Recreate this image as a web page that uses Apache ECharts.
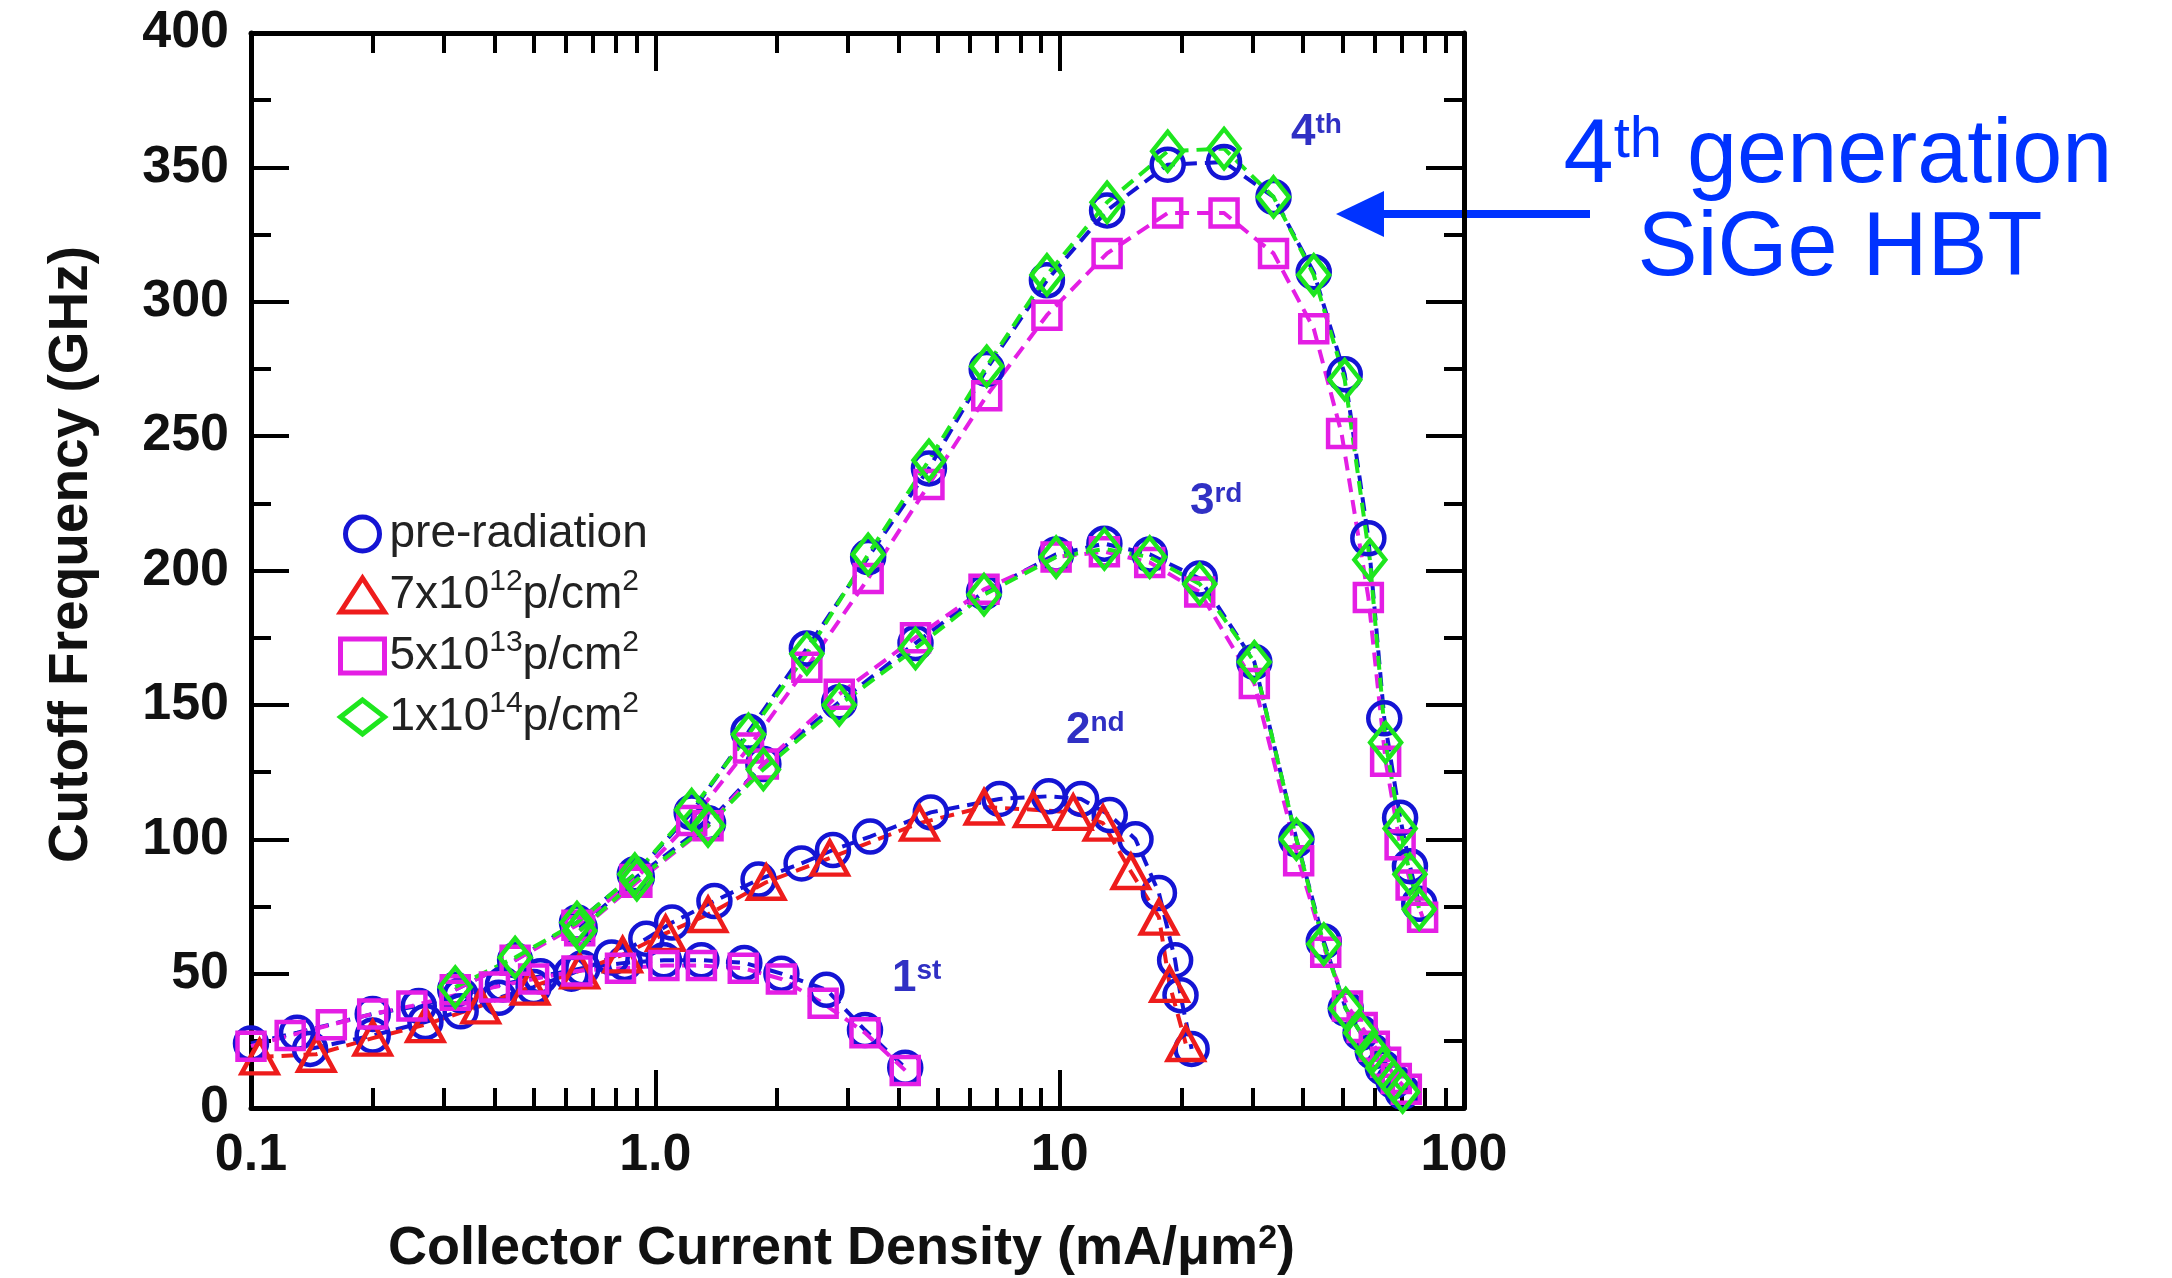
<!DOCTYPE html>
<html>
<head>
<meta charset="utf-8">
<script src="https://cdn.jsdelivr.net/npm/echarts@6.0.0/dist/echarts.min.js"></script>
<style>
  html, body { margin: 0; padding: 0; background: #fff; }
  #chart { width: 2172px; height: 1278px; }
</style>
</head>
<body>
<div id="chart"></div>
<script>
  // tick values
  var xMajorTicks = [0.1, 1, 10, 100];
  var xMinorTicks = [0.2, 0.3, 0.4, 0.5, 0.6, 0.7, 0.8, 0.9, 2, 3, 4, 5, 6, 7, 8, 9, 20, 30, 40, 50, 60, 70, 80, 90];

  // [J (mA/um2), fT (GHz)]
  // 1st generation
  var gen1Pre = [[0.1,24],[0.13,28],[0.2,35],[0.26,38],[0.33,42],[0.42,46],[0.52,49],[0.66,52],[0.84,54],[1.05,55],[1.3,55],[1.66,54],[2.05,50],[2.65,44],[3.3,29],[4.15,15]];
  var gen1D13 = [[0.1,23],[0.125,27],[0.158,31],[0.2,35],[0.25,38],[0.32,42],[0.4,45],[0.5,48],[0.64,51],[0.82,52],[1.05,53],[1.3,53],[1.65,52],[2.05,48],[2.6,39],[3.3,28],[4.15,14]];
  // 2nd generation
  var gen2Pre = [[0.14,22],[0.2,27],[0.27,32],[0.33,36],[0.41,41],[0.5,45],[0.62,50],[0.78,56],[0.95,63],[1.1,69],[1.4,77],[1.8,85],[2.3,91],[2.75,96],[3.4,101],[4.8,110],[7.1,115],[9.4,116],[11.3,115],[13.3,109],[15.4,100],[17.6,80],[19.3,55],[19.9,42],[21.2,22]];
  var gen2D12 = [[0.105,19],[0.145,20],[0.2,26],[0.27,31],[0.37,38],[0.49,45],[0.65,51],[0.83,57],[1.06,65],[1.35,72],[1.88,84],[2.7,93],[4.5,106],[6.5,112],[8.6,111],[10.8,110],[12.8,106],[15,88],[17.6,71],[18.7,46],[20.5,24]];
  // 3rd generation
  var gen3Pre = [[0.65,67],[0.9,86],[1.35,106],[1.85,128],[2.85,151],[4.4,173],[6.5,192],[9.8,206],[12.9,210],[16.7,206],[22.2,197],[30.3,166],[38.5,100],[45,62],[51,37],[55.5,28],[59.5,21],[63,15],[67,10],[70.5,6]];
  var gen3D13 = [[0.65,66],[0.9,84],[1.35,105],[1.85,128],[2.85,154],[4.4,175],[6.5,193],[9.8,205],[12.9,207],[16.7,203],[22.2,192],[30.3,158],[39,92],[45.5,58],[51.5,38],[56,30],[60,23],[64,17],[68,11],[72,7]];
  var gen3D14 = [[0.65,66],[0.9,85],[1.35,105],[1.85,126],[2.85,150],[4.4,171],[6.5,191],[9.8,205],[12.9,208],[16.7,205],[22.2,195],[30.3,166],[38.5,100],[45,61],[51,37],[55.5,28],[59.5,21],[63,15],[67,10],[70.5,6]];
  // 4th generation
  var gen4Pre = [[0.32,44],[0.45,55],[0.64,69],[0.89,87],[1.23,110],[1.7,140],[2.37,171],[3.36,205],[4.75,238],[6.6,275],[9.3,308],[13.1,334],[18.5,351],[25.5,352],[33.8,339],[42.5,311],[50.7,273],[58,212],[63.5,145],[69.5,108],[73.5,90],[77.5,76]];
  var gen4D13 = [[0.32,44],[0.45,55],[0.64,68],[0.89,85],[1.23,107],[1.7,134],[2.37,164],[3.36,197],[4.75,232],[6.6,265],[9.3,295],[13.1,318],[18.5,333],[25.5,333],[33.8,318],[42.5,290],[49.8,251],[58,190],[64,129],[69.5,98],[74,83],[79,71]];
  var gen4D14 = [[0.32,45],[0.45,56],[0.64,69],[0.89,87],[1.23,111],[1.7,139],[2.37,169],[3.36,206],[4.75,241],[6.6,276],[9.3,310],[13.1,337],[18.5,356],[25.5,357],[33.8,339],[42.5,310],[50.7,271],[58.5,204],[64,136],[69.5,104],[73.5,87],[77.5,74]];

  var F = "'Liberation Sans', Arial, sans-serif";

  var kinds = {
    pre: { name: 'pre-radiation', symbol: 'circle', color: '#1414d4', size: 32 },
    d12: { name: '7x10^12', symbol: 'triangle', color: '#ee1c1c', size: [36, 33] },
    d13: { name: '5x10^13', symbol: 'rect', color: '#e41ee4', size: 27 },
    d14: { name: '1x10^14', symbol: 'diamond', color: '#1ee61e', size: [31, 39] }
  };
  var legendText = {
    'pre-radiation': '{m|pre-radiation}',
    '7x10^12': '{m|7x10}{s|12}{m|p/cm}{s|2}',
    '5x10^13': '{m|5x10}{s|13}{m|p/cm}{s|2}',
    '1x10^14': '{m|1x10}{s|14}{m|p/cm}{s|2}'
  };

  function curve(kind, data) {
    var k = kinds[kind];
    return {
      name: k.name,
      type: 'line',
      data: data,
      symbol: k.symbol,
      symbolSize: k.size,
      animation: false,
      emphasis: { disabled: true },
      itemStyle: { color: 'rgba(255,255,255,0)', borderColor: k.color, borderWidth: 4.5 },
      lineStyle: { color: k.color, width: 4, type: [14, 8] }
    };
  }

  function legendItem(kind, icon) {
    var k = kinds[kind];
    return { name: k.name, icon: icon, itemStyle: { color: 'rgba(0,0,0,0)', borderColor: k.color, borderWidth: 5 } };
  }

  function genLabel(num, suf, x, y) {
    return {
      type: 'text', x: x, y: y,
      style: {
        text: '{n|' + num + '}{s|' + suf + '}', align: 'left', verticalAlign: 'middle',
        rich: {
          n: { fontFamily: F, fontSize: 44, fontWeight: 'bold', fill: '#3030c4' },
          s: { fontFamily: F, fontSize: 28, fontWeight: 'bold', fill: '#3030c4', verticalAlign: 'top' }
        }
      }
    };
  }

  var chart = echarts.init(document.getElementById('chart'));

  var tickLine = { color: '#000', width: 4 };
  var frameLine = { color: '#000', width: 5 };

  var option = {
    backgroundColor: '#fff',
    animation: false,
    grid: { left: 251, right: 708, top: 33, bottom: 170, outerBoundsMode: 'none' },
    legend: {
      orient: 'vertical',
      left: 333,
      top: 503,
      itemWidth: 44,
      itemHeight: 34,
      itemGap: 7,
      selectedMode: false,
      data: [
        legendItem('pre', 'circle'),
        legendItem('d12', 'triangle'),
        legendItem('d13', 'rect'),
        legendItem('d14', 'diamond')
      ],
      formatter: function (n) { return legendText[n]; },
      textStyle: {
        fontFamily: F, fontSize: 46, color: '#222',
        rich: {
          m: { fontFamily: F, fontSize: 46, color: '#222', lineHeight: 56, padding: [3, 0, 3, 0] },
          s: { fontFamily: F, fontSize: 30, color: '#222', verticalAlign: 'top' }
        }
      }
    },
    xAxis: [
      {
        type: 'log', logBase: 10, min: 0.1, max: 100, position: 'bottom',
        axisLine: { onZero: false, lineStyle: frameLine },
        axisTick: { inside: true, length: 38, lineStyle: tickLine, customValues: xMajorTicks },
        axisLabel: {
          customValues: xMajorTicks, margin: 22, color: '#111', fontFamily: F, fontSize: 52, fontWeight: 'bold',
          formatter: function (v) { return v === 1 ? '1.0' : String(v); }
        },
        splitLine: { show: false },
        name: 'Collector Current Density (mA/\u03bcm{s|2})',
        nameLocation: 'middle',
        nameGap: 114,
        nameTextStyle: {
          fontFamily: F, fontSize: 54, fontWeight: 'bold', color: '#111', padding: [0, 32, 0, 0],
          rich: { s: { fontFamily: F, fontSize: 34, fontWeight: 'bold', color: '#111', verticalAlign: 'top' } }
        }
      },
      {
        type: 'log', logBase: 10, min: 0.1, max: 100, position: 'bottom',
        axisLine: { show: false, onZero: false },
        axisTick: { inside: true, length: 20, lineStyle: tickLine, customValues: xMinorTicks },
        axisLabel: { show: false },
        splitLine: { show: false }
      },
      {
        type: 'log', logBase: 10, min: 0.1, max: 100, position: 'top',
        axisLine: { onZero: false, lineStyle: frameLine },
        axisTick: { inside: true, length: 38, lineStyle: tickLine, customValues: xMajorTicks },
        axisLabel: { show: false },
        splitLine: { show: false }
      },
      {
        type: 'log', logBase: 10, min: 0.1, max: 100, position: 'top',
        axisLine: { show: false, onZero: false },
        axisTick: { inside: true, length: 20, lineStyle: tickLine, customValues: xMinorTicks },
        axisLabel: { show: false },
        splitLine: { show: false }
      }
    ],
    yAxis: [
      {
        type: 'value', min: 0, max: 400, interval: 50, position: 'left',
        axisLine: { show: true, onZero: false, lineStyle: frameLine },
        axisTick: { show: true, inside: true, length: 38, lineStyle: tickLine },
        minorTick: { show: true, splitNumber: 2, length: 20, lineStyle: tickLine },
        axisLabel: { margin: 22, color: '#111', fontFamily: F, fontSize: 52, fontWeight: 'bold' },
        splitLine: { show: false },
        name: 'Cutoff Frequency (GHz)',
        nameLocation: 'middle',
        nameGap: 152,
        nameTextStyle: { fontFamily: F, fontSize: 55, fontWeight: 'bold', color: '#111', padding: [0, 0, 0, 32] }
      },
      {
        type: 'value', min: 0, max: 400, interval: 50, position: 'right',
        axisLine: { show: true, onZero: false, lineStyle: frameLine },
        axisTick: { show: true, inside: true, length: 38, lineStyle: tickLine },
        minorTick: { show: true, splitNumber: 2, length: 20, lineStyle: tickLine },
        axisLabel: { show: false },
        splitLine: { show: false }
      }
    ],
    series: [
      curve('pre', gen1Pre),
      curve('pre', gen2Pre),
      curve('pre', gen3Pre),
      curve('pre', gen4Pre),
      curve('d12', gen2D12),
      curve('d13', gen1D13),
      curve('d13', gen3D13),
      curve('d13', gen4D13),
      curve('d14', gen3D14),
      curve('d14', gen4D14)
    ],
    graphic: [
      genLabel('1', 'st', 892, 979),
      genLabel('2', 'nd', 1066, 731),
      genLabel('3', 'rd', 1190, 502),
      genLabel('4', 'th', 1291, 133),
      {
        type: 'line', shape: { x1: 1590, y1: 214, x2: 1378, y2: 214 },
        style: { stroke: '#0033ff', lineWidth: 8 }
      },
      {
        type: 'polygon', shape: { points: [[1336, 214], [1384, 191], [1384, 237]] },
        style: { fill: '#0033ff' }
      },
      {
        type: 'text', x: 1838, y: 157,
        style: {
          text: '{a|4}{b|th}{a| generation}', align: 'center', verticalAlign: 'middle',
          rich: {
            a: { fontFamily: F, fontSize: 90, fill: '#0033ff' },
            b: { fontFamily: F, fontSize: 58, fill: '#0033ff', verticalAlign: 'top' }
          }
        }
      },
      {
        type: 'text', x: 1840, y: 250,
        style: { text: 'SiGe HBT', align: 'center', verticalAlign: 'middle', fontFamily: F, fontSize: 90, fill: '#0033ff' }
      }
    ]
  };

  chart.setOption(option);
</script>
</body>
</html>
